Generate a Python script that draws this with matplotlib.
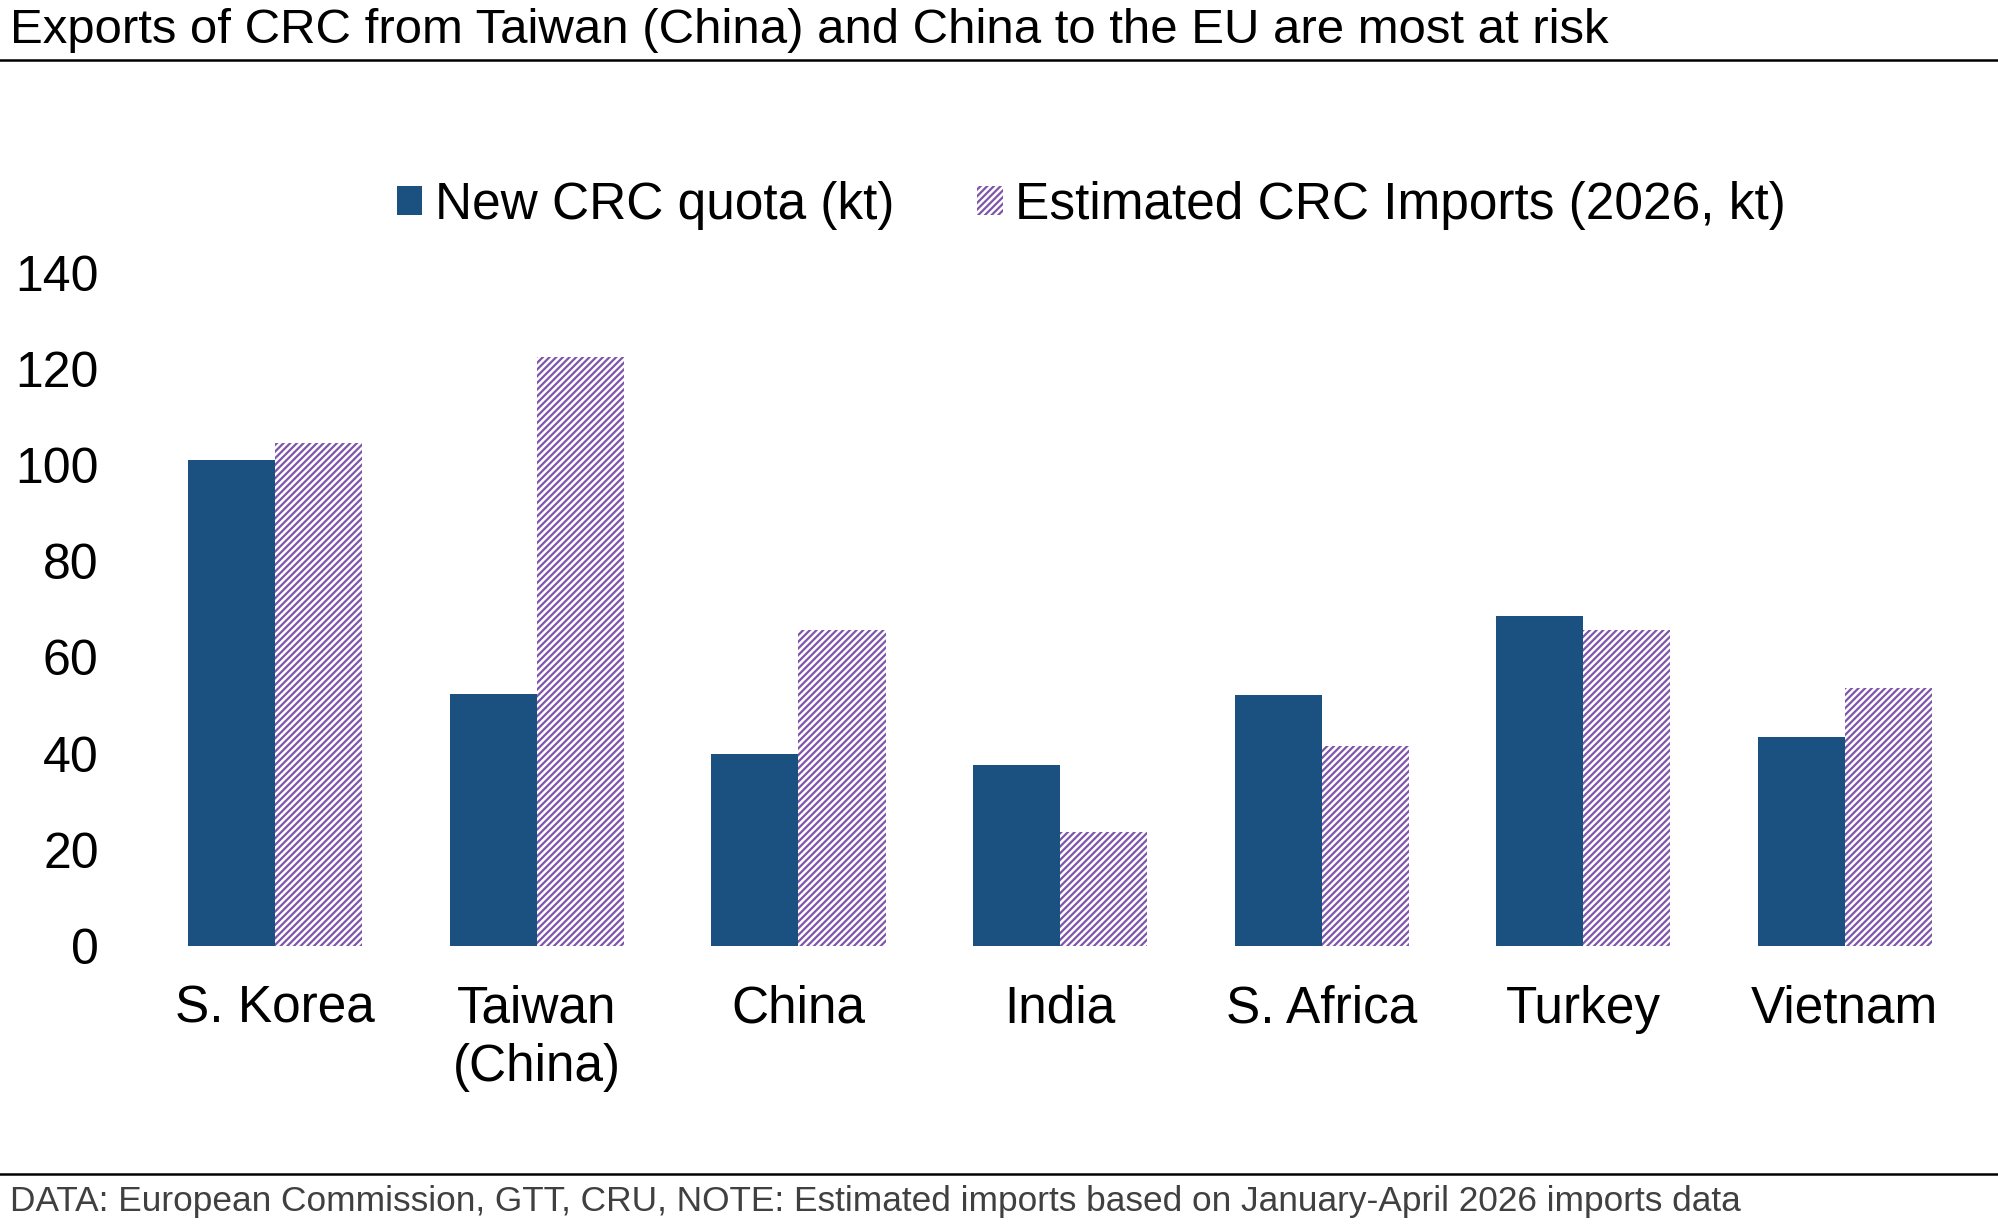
import matplotlib
matplotlib.use("Agg")
import matplotlib.pyplot as plt
from matplotlib.patches import Patch
from matplotlib.lines import Line2D
import numpy as np

plt.rcParams['font.family'] = ['Liberation Sans', 'DejaVu Sans']
plt.rcParams['hatch.linewidth'] = 1.6

countries = ["S. Korea", "Taiwan\n(China)", "China", "India", "S. Africa", "Turkey", "Vietnam"]
quota = [101, 52.5, 40, 37.7, 52.2, 68.7, 43.5]
imports_2026 = [104.7, 122.5, 65.8, 23.6, 41.6, 65.8, 53.6]

blue = "#1a5180"
purple = "#7f55ab"

fig = plt.figure(figsize=(19.99, 12.29), dpi=100)
ax = fig.add_axes([0.0723, 0.2303, 0.916, 0.5477])

x = np.arange(len(countries))
w = 0.333
ax.bar(x - w / 2, quota, width=w, color=blue, linewidth=0)
ax.bar(x + w / 2, imports_2026, width=w, color="white", edgecolor=purple,
       hatch="/////", linewidth=0)

ax.set_xlim(-0.5, len(countries) - 0.5)
ax.set_ylim(0, 140)
ax.set_yticks(range(0, 141, 20))
ax.set_xticks(x)
ax.set_xticklabels(countries, fontsize=37, linespacing=1.25)
ax.tick_params(axis='y', length=0, pad=33, labelsize=36)
ax.tick_params(axis='x', length=0, pad=28)
for s in ax.spines.values():
    s.set_visible(False)

handles = [Patch(facecolor=blue, edgecolor=blue, linewidth=0),
           Patch(facecolor="white", edgecolor=purple, hatch="/////", linewidth=0)]
fig.legend(handles, ["New CRC quota (kt)", "Estimated CRC Imports (2026, kt)"],
           loc="center", bbox_to_anchor=(0.546, 0.833), ncol=2, frameon=False,
           fontsize=37, handlelength=0.5, handleheight=0.5, handletextpad=0.25,
           columnspacing=1.6)

fig.text(0.005, 0.975, "Exports of CRC from Taiwan (China) and China to the EU are most at risk",
         fontsize=35.4, ha="left", va="center")
fig.add_artist(Line2D([0, 1], [0.951, 0.951], color="black", linewidth=1.8,
                      transform=fig.transFigure))
fig.add_artist(Line2D([0, 1], [0.0447, 0.0447], color="black", linewidth=1.8,
                      transform=fig.transFigure))
fig.text(0.005, 0.022, "DATA: European Commission, GTT, CRU, NOTE: Estimated imports based on January-April 2026 imports data",
         fontsize=25.4, color="#404040", ha="left", va="center")

fig.savefig("out.png", dpi=100)
